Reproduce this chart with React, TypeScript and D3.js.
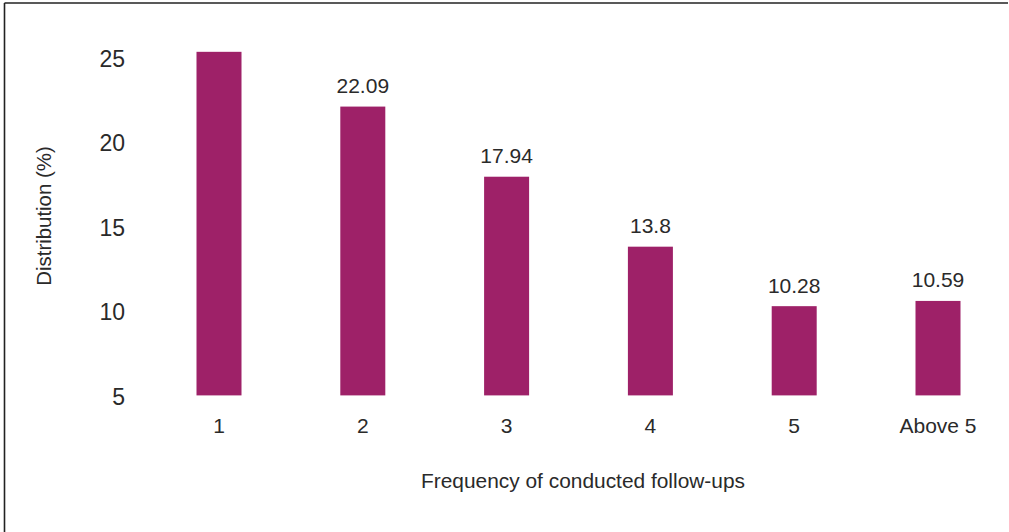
import React from 'react';
import * as d3 from 'd3';

const categories = ['1', '2', '3', '4', '5', 'Above 5'];
const values = [25.33, 22.09, 17.94, 13.8, 10.28, 10.59];
const valueLabels = ['', '22.09', '17.94', '13.8', '10.28', '10.59'];
const yTicks = [5, 10, 15, 20, 25];

const width = 1009;
const height = 532;
const barColor = '#9e2168';
const textColor = '#2a2a2a';
const font = '"Liberation Sans", Arial, Helvetica, sans-serif';

const App: React.FC = () => {
  // bar centres and value scale
  const x = d3.scalePoint<string>().domain(categories).range([219, 938]);
  const y = d3.scaleLinear().domain([5, 25]).range([395.4, 57.4]);
  const barWidth = 45;

  return (
    <svg
      width={width}
      height={height}
      style={{ position: 'absolute', left: 0, top: 0, background: '#fff' }}
      fontFamily={font}
    >
      {/* frame: top and left edges only */}
      <line x1={4.5} y1={3} x2={1008} y2={3} stroke="#222" strokeWidth={1.6} />
      <line x1={4.5} y1={3} x2={4.5} y2={height} stroke="#222" strokeWidth={1.6} />

      {/* y tick labels */}
      {yTicks.map(t => (
        <text
          key={t}
          x={125}
          y={y(t) + 1}
          dy="0.36em"
          textAnchor="end"
          fontSize={23}
          fill={textColor}
        >
          {t}
        </text>
      ))}

      {/* bars */}
      {categories.map((c, i) => (
        <rect
          key={c}
          x={(x(c) ?? 0) - barWidth / 2}
          y={y(values[i])}
          width={barWidth}
          height={y(5) - y(values[i])}
          fill={barColor}
        />
      ))}

      {/* value labels */}
      {categories.map((c, i) =>
        valueLabels[i] ? (
          <text
            key={c}
            x={x(c)}
            y={y(values[i]) - 13.5}
            textAnchor="middle"
            fontSize={21}
            fill={textColor}
          >
            {valueLabels[i]}
          </text>
        ) : null
      )}

      {/* category labels */}
      {categories.map(c => (
        <text key={c} x={x(c)} y={433} textAnchor="middle" fontSize={21} fill={textColor}>
          {c}
        </text>
      ))}

      {/* axis titles */}
      <text x={583} y={488} textAnchor="middle" fontSize={20.9} fill={textColor}>
        Frequency of conducted follow-ups
      </text>
      <text
        transform={`translate(51, 216) rotate(-90)`}
        textAnchor="middle"
        fontSize={20.4}
        fill={textColor}
      >
        Distribution (%)
      </text>
    </svg>
  );
};

export default App;
